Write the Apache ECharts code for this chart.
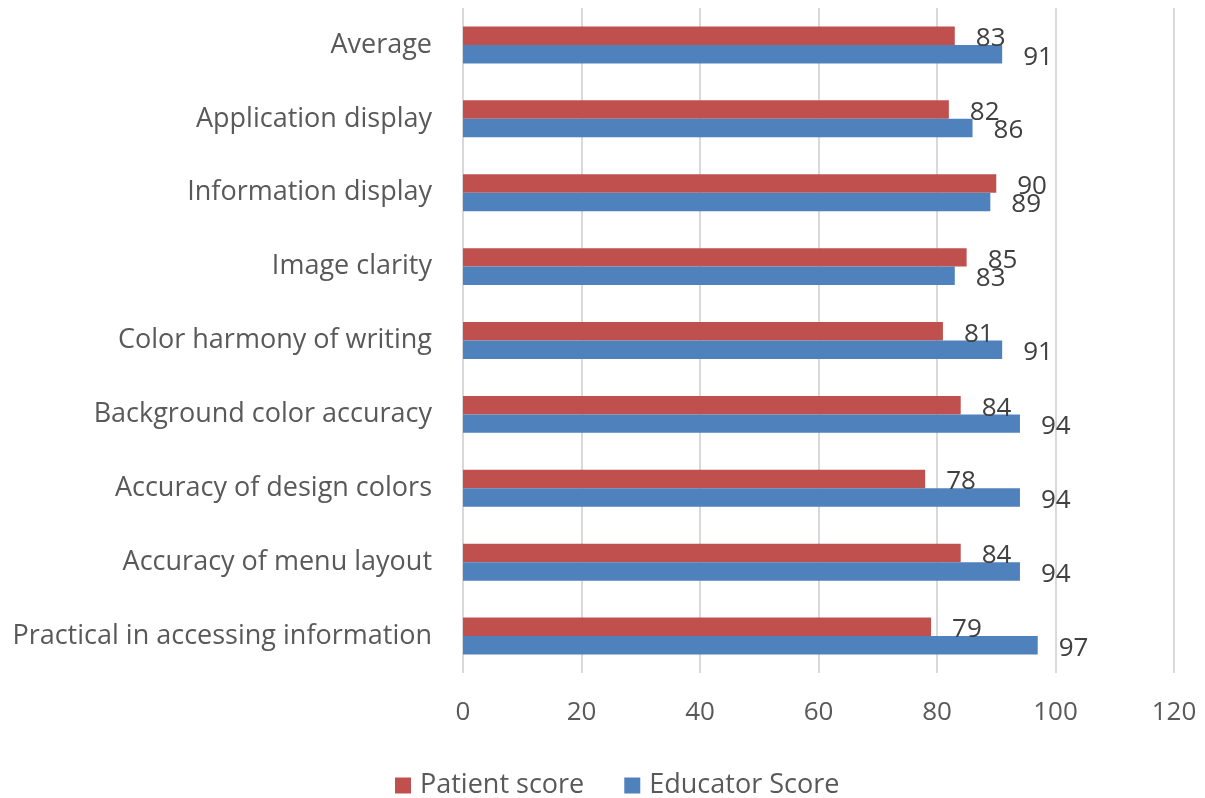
<!DOCTYPE html>
<html>
<head>
<meta charset="utf-8">
<script src="https://cdn.jsdelivr.net/npm/echarts@6/dist/echarts.min.js"></script>
<style>
  html, body { margin: 0; padding: 0; background: #ffffff; }
  #chart { width: 1205px; height: 798px; }
</style>
</head>
<body>
<div id="chart"></div>
<script>
// Rating items, listed from the bottom of the chart to the top
const categories = [
  'Practical in accessing information',
  'Accuracy of menu layout',
  'Accuracy of design colors',
  'Background color accuracy',
  'Color harmony of writing',
  'Image clarity',
  'Information display',
  'Application display',
  'Average'
];
const patientScore = [79, 84, 78, 84, 81, 85, 90, 82, 83];
const educatorScore = [97, 94, 94, 94, 91, 83, 89, 86, 91];
const xTicks = { min: 0, max: 120, interval: 20 };

const FONT = 'Open Sans';
const labelStyle = {
  show: true,
  position: 'right',
  distance: 21,
  offset: [0, 3],
  color: '#404040',
  fontFamily: FONT,
  fontSize: 26
};

const chart = echarts.init(document.getElementById('chart'), null, { renderer: 'canvas' });
chart.setOption({
  animation: false,
  backgroundColor: '#ffffff',
  grid: { left: 463, right: 31, top: 8, bottom: 125, containLabel: false },
  legend: {
    top: 767,
    left: 390,
    itemWidth: 16,
    itemHeight: 16,
    itemGap: 40,
    icon: 'rect',
    data: ['Patient score', 'Educator Score'],
    textStyle: { color: '#595959', fontFamily: FONT, fontSize: 27, padding: [0, 0, 0, 4] }
  },
  xAxis: {
    type: 'value',
    min: xTicks.min,
    max: xTicks.max,
    interval: xTicks.interval,
    axisLine: { show: false },
    axisTick: { show: false },
    axisLabel: { color: '#595959', fontFamily: FONT, fontSize: 26, margin: 27 },
    splitLine: { show: true, lineStyle: { color: '#d9d9d9', width: 2 } }
  },
  yAxis: {
    type: 'category',
    data: categories,
    axisLine: { show: false },
    axisTick: { show: false },
    axisLabel: { color: '#595959', fontFamily: FONT, fontSize: 27, margin: 31 }
  },
  series: [
    {
      name: 'Patient score',
      type: 'bar',
      data: patientScore,
      barGap: '0%',
      barCategoryGap: '50%',
      itemStyle: { color: '#c0504d' },
      label: labelStyle
    },
    {
      name: 'Educator Score',
      type: 'bar',
      data: educatorScore,
      barGap: '0%',
      barCategoryGap: '50%',
      itemStyle: { color: '#4f81bd' },
      label: labelStyle
    }
  ]
});
</script>
</body>
</html>
